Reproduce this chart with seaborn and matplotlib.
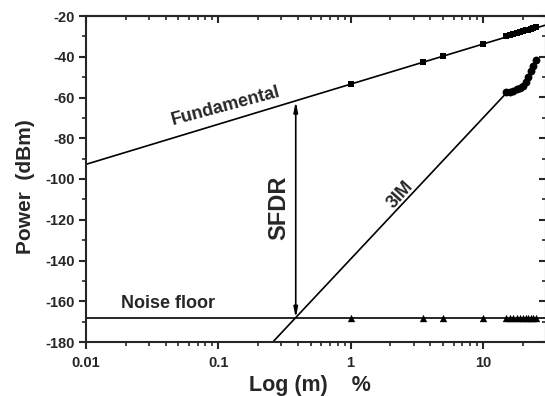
import numpy as np
import pandas as pd
import matplotlib
matplotlib.use("Agg")
import matplotlib.pyplot as plt
from matplotlib.ticker import LogLocator, FixedLocator, NullFormatter, MultipleLocator
import seaborn as sns

# Measured points (modulation index in %, power in dBm)
m_meas = [1, 3.5, 5, 10, 15, 16, 17, 18, 19, 20, 21, 22, 23, 24, 25]
fund_dbm = [-53.5, -42.8, -39.6, -33.6, -30.0, -29.4, -28.9, -28.4, -28.0,
            -27.5, -27.1, -26.7, -26.3, -26.0, -25.6]
noise_dbm = [-168.2] * len(m_meas)

m_3im = [15, 16, 17, 18, 19, 20, 21, 22, 23, 24, 25]
im3_dbm = [-57.5, -57.2, -56.6, -55.9, -55.2, -54.3, -52.5, -49.8, -47.0, -44.3, -41.5]

# Trend lines (end points)
fund_fit_m = [0.01, 30]
fund_fit_dbm = [-92.8, -24.4]
noise_fit_m = [0.01, 30]
noise_fit_dbm = [-168.2, -168.2]
im3_fit_m = [0.2, 15]
im3_fit_dbm = [-187.7, -57.9]

# SFDR marker position
sfdr_m = 0.385
sfdr_top = -61.9
sfdr_bottom = -168.2

sns.set_style("ticks")
plt.rcParams["font.family"] = ["Liberation Sans", "DejaVu Sans"]
plt.rcParams["font.weight"] = "bold"
plt.rcParams["axes.unicode_minus"] = False

fig = plt.figure(figsize=(5.45, 3.96), dpi=100)
ax = fig.add_axes([86 / 545, 1 - 342 / 396, 460 / 545, 326 / 396])

lw = 1.2
sns.lineplot(x=fund_fit_m, y=fund_fit_dbm, ax=ax, color="black", lw=lw)
sns.lineplot(x=noise_fit_m, y=noise_fit_dbm, ax=ax, color="black", lw=lw)
sns.lineplot(x=im3_fit_m, y=im3_fit_dbm, ax=ax, color="black", lw=lw)

sns.scatterplot(x=m_meas, y=fund_dbm, ax=ax, marker="s", s=16, color="black",
                edgecolor="black", linewidth=0, zorder=5)
sns.scatterplot(x=m_meas, y=noise_dbm, ax=ax, marker="^", s=28, color="black",
                edgecolor="black", linewidth=0, zorder=5)
sns.scatterplot(x=m_3im, y=im3_dbm, ax=ax, marker="o", s=32, color="black",
                edgecolor="black", linewidth=0, zorder=5)

ax.set_xscale("log")
ax.set_xlim(0.01, 30)
ax.set_ylim(-180, -20)

ax.annotate("", xy=(sfdr_m, sfdr_top), xytext=(sfdr_m, sfdr_bottom),
            arrowprops=dict(arrowstyle="<|-|>,head_length=0.6,head_width=0.12",
                            color="black", lw=1.2, shrinkA=0, shrinkB=0))

ax.text(0.114, -64.2, "Fundamental", rotation=15, ha="center", va="center",
        fontsize=13, fontweight="bold")
ax.text(0.0416, -160.9, "Noise floor", ha="center", va="center",
        fontsize=13, fontweight="bold")
ax.text(0.285, -114.2, "SFDR", rotation=90, ha="center", va="center",
        fontsize=17, fontweight="bold")
ax.text(2.39, -107.9, "3IM", rotation=48, ha="center", va="center",
        fontsize=13, fontweight="bold")

# Axes styling
for sp in ax.spines.values():
    sp.set_linewidth(1.5)
    sp.set_visible(True)

ax.xaxis.set_major_locator(FixedLocator([0.01, 0.1, 1, 10]))
ax.set_xticklabels(["0.01", "0.1", "1", "10"])
ax.xaxis.set_minor_locator(LogLocator(base=10, subs=np.arange(2, 10), numticks=20))
ax.xaxis.set_minor_formatter(NullFormatter())
ax.yaxis.set_major_locator(MultipleLocator(20))
ax.yaxis.set_minor_locator(MultipleLocator(10))

ax.tick_params(axis="both", which="major", direction="out", length=5, width=1.5,
               labelsize=10.5, pad=3)
ax.tick_params(axis="x", which="major", pad=5)
ax.tick_params(axis="both", which="minor", direction="out", length=3, width=1.2)
for lab in ax.get_xticklabels() + ax.get_yticklabels():
    lab.set_fontweight("bold")

# Mirrored inward ticks on top and right
top = ax.secondary_xaxis("top")
top.xaxis.set_major_locator(FixedLocator([0.01, 0.1, 1, 10]))
top.xaxis.set_minor_locator(LogLocator(base=10, subs=np.arange(2, 10), numticks=20))
top.tick_params(which="major", direction="in", length=5, width=1.5, labeltop=False)
top.tick_params(which="minor", direction="in", length=3, width=1.2)
top.xaxis.set_minor_formatter(NullFormatter())
top.spines["top"].set_linewidth(1.5)

right = ax.secondary_yaxis("right")
right.yaxis.set_major_locator(MultipleLocator(20))
right.yaxis.set_minor_locator(MultipleLocator(10))
right.tick_params(which="major", direction="in", length=5, width=1.5, labelright=False)
right.tick_params(which="minor", direction="in", length=3, width=1.2)
right.spines["right"].set_linewidth(1.5)

# Axis titles placed in figure coordinates
fig.text(310 / 545, 1 - 391 / 396, "Log (m)    %", fontsize=15.5, fontweight="bold",
         ha="center", va="baseline")
fig.text(31 / 545, 1 - 187 / 396, "Power  (dBm)", fontsize=15, fontweight="bold",
         ha="center", va="baseline", rotation=90, rotation_mode="anchor")

fig.savefig("out.png", dpi=100)
